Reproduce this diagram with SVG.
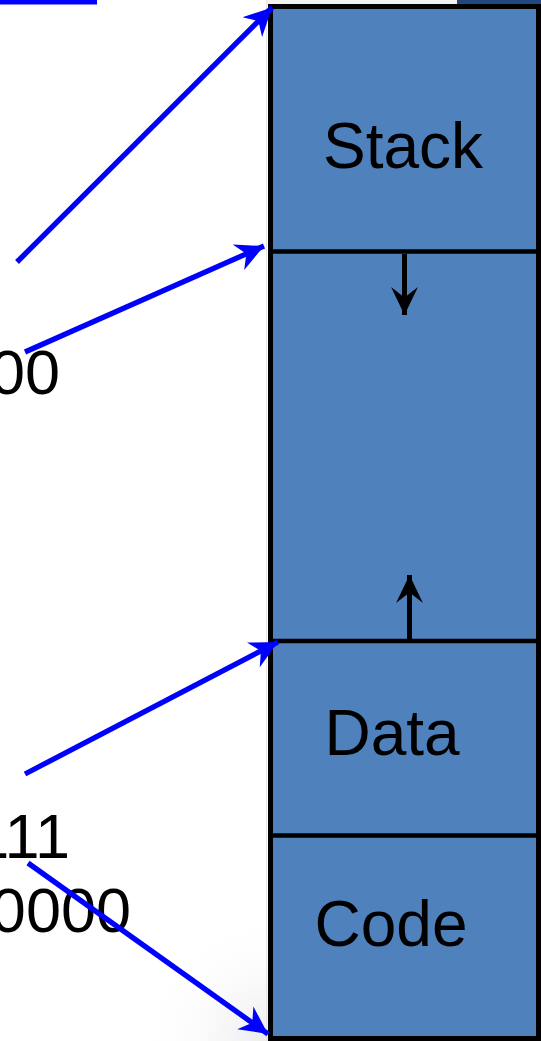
<svg xmlns="http://www.w3.org/2000/svg" width="541" height="1041" viewBox="0 0 541 1041">
  <defs>
    <radialGradient id="bgShade" cx="268" cy="1041" r="130" gradientUnits="userSpaceOnUse">
      <stop offset="0" stop-color="#ECECEC"/>
      <stop offset="1" stop-color="#FFFFFF" stop-opacity="0"/>
    </radialGradient>
    <marker id="blueHead" markerUnits="userSpaceOnUse" markerWidth="30" markerHeight="30" viewBox="-26 -14 28 28" refX="0" refY="0" orient="auto">
      <path d="M0,0 L-26,-13 L-18,0 L-26,13 Z" fill="#0000FF"/>
    </marker>
    <marker id="blackHead" markerUnits="userSpaceOnUse" markerWidth="30" markerHeight="30" viewBox="-27 -14 29 28" refX="0" refY="0" orient="auto">
      <path d="M0,0 L-27,-13 L-17,0 L-27,13 Z" fill="#000000"/>
    </marker>
    <style>
      .div { stroke: #000000; stroke-width: 4.7; fill: none; }
      .lbl { font-family: "Liberation Sans", Arial, sans-serif; font-size: 64px; fill: #000000; }
      .addr { font-family: "Liberation Sans", Arial, sans-serif; font-size: 63px; fill: #000000; text-anchor: end; }
      .ptr { stroke: #0000FF; stroke-width: 5.3; fill: none; marker-end: url(#blueHead); }
      .grow { stroke: #000000; stroke-width: 5; fill: none; marker-end: url(#blackHead); }
    </style>
  </defs>

  <rect x="0" y="0" width="541" height="1041" fill="#FFFFFF"/>
  <rect x="130" y="900" width="140" height="141" fill="url(#bgShade)"/>
  <rect x="0" y="0" width="97" height="4.5" fill="#0000FF"/>
  <rect x="266" y="0" width="191" height="4.5" fill="#F2F2F2"/>
  <rect x="457" y="0" width="84" height="4.5" fill="#1F497D"/>
  <line x1="266.5" y1="0" x2="266.5" y2="1041" stroke="#E4E4E4" stroke-width="1"/>

  <g id="memory">
    <rect x="270.5" y="6.5" width="268" height="1032" fill="#4F81BD" stroke="#000000" stroke-width="5"/>
  </g>
  <g id="stack">
    <text class="lbl" x="403" y="168" text-anchor="middle">Stack</text>
  </g>
  <g id="free">
    <line class="div" x1="270" y1="251.5" x2="539" y2="251.5"/>
  </g>
  <g id="data">
    <line class="div" x1="270" y1="641" x2="539" y2="641"/>
    <text class="lbl" x="392" y="755" text-anchor="middle">Data</text>
  </g>
  <g id="code">
    <line class="div" x1="270" y1="835.5" x2="539" y2="835.5"/>
    <text class="lbl" x="391" y="946" text-anchor="middle">Code</text>
  </g>

  <g id="addresses">
    <text class="addr" x="60" y="394">00</text>
    <text class="addr" x="70" y="858">111</text>
    <text class="addr" x="131" y="932">0000</text>
  </g>

  <g id="connectors">
    <line class="grow" x1="404.5" y1="254" x2="404.5" y2="315"/>
    <line class="grow" x1="409.5" y1="639" x2="409.5" y2="575"/>
    <line class="ptr" x1="17" y1="262" x2="272" y2="7.5"/>
    <line class="ptr" x1="25" y1="352" x2="264" y2="246"/>
    <line class="ptr" x1="25" y1="774" x2="278" y2="642"/>
    <line class="ptr" x1="28" y1="863" x2="268" y2="1034"/>
  </g>
</svg>
